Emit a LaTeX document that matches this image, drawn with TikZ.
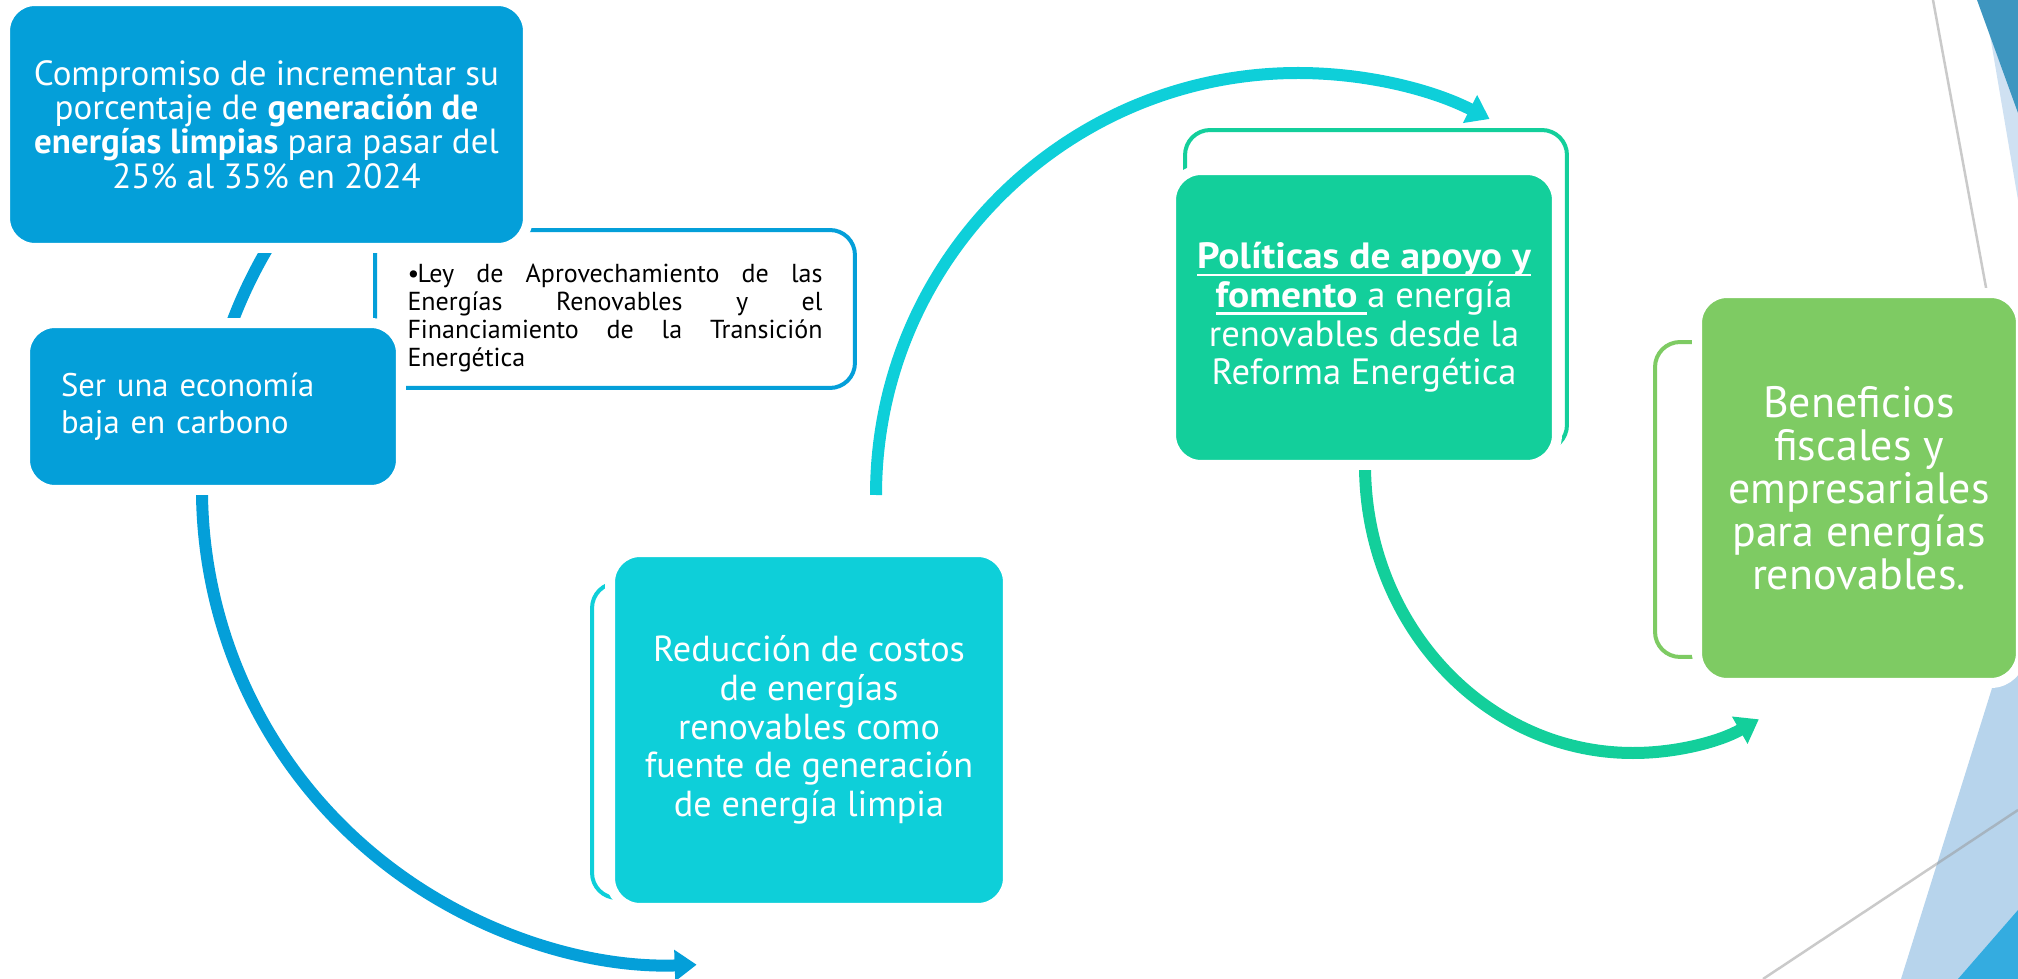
\documentclass[tikz,border=0pt]{standalone}
\usepackage{fontspec}
\setmainfont{PT Sans}
\usepackage{xcolor}
\usepackage{tikz}
\usetikzlibrary{arrows.meta,calc}

\definecolor{stepblue}{RGB}{4,159,217}
\definecolor{stepteal}{RGB}{14,207,217}
\definecolor{stepmint}{RGB}{19,207,155}
\definecolor{stepgreen}{RGB}{126,203,99}
\definecolor{facetlight}{RGB}{183,212,236}
\definecolor{facetpale}{RGB}{207,225,242}
\definecolor{facetdark}{RGB}{62,150,192}
\definecolor{facetbright}{RGB}{52,172,224}
\definecolor{facetline}{RGB}{150,150,150}

% underline that sits through the descenders
\newcommand{\undl}[1]{\setbox0=\hbox{#1}\rlap{\rule[-0.2em]{\wd0}{0.07em}}\box0}
% wide bold for the policy title
\newcommand{\widebf}{\bfseries\addfontfeature{FakeStretch=1.08}}

\begin{document}
\begin{tikzpicture}[x=0.02cm, y=-0.02cm,
    card/.style={rounded corners=0.6cm, draw=white, line width=0.2cm, text=white, align=center, inner sep=0pt},
    backcard/.style={rounded corners=0.5cm, line width=0.08cm, inner sep=0pt},
    flow/.style={line width=0.24cm, -{Triangle[length=0.44cm,width=0.6cm]}}]
    \useasboundingbox (0,0) rectangle (2018,979);

    % Slide decoration (right border)
    \fill[facetpale] (1984,0) -- (2018,0) -- (2018,200) -- cycle;
    \fill[facetdark] (1977,0) -- (2018,0) -- (2018,113) -- cycle;
    \fill[facetlight] (1901,979) -- (2018,605) -- (2018,979) -- cycle;
    \fill[facetbright] (1958,979) -- (2018,910) -- (2018,979) -- cycle;
    \draw[facetline, opacity=0.5, line width=0.05cm] (1933,0) -- (1987,293);
    \draw[facetline, opacity=0.5, line width=0.05cm] (1763,979) -- (2018,810);

    % Arrows of the cycle
    \coordinate (cyc1) at (680,489);
    \coordinate (cyc2) at (1298,495);
    \coordinate (cyc3) at (1633,465);
    \draw[flow, stepblue] ($(cyc1)+(215:478 and 476)$) arc[start angle=215, end angle=88, x radius=478, y radius=476];
    \draw[flow, stepteal] ($(cyc2)+(180:422)$) arc[start angle=180, end angle=297, radius=422];
    \draw[flow, stepmint] ($(cyc3)+(180:268 and 288)$) arc[start angle=180, end angle=62, x radius=268, y radius=288];

    % Secondary (text) boxes behind the steps
    \node[backcard, draw=stepblue, minimum width=9.6cm, minimum height=3.16cm] (ley) at (615,309) {};
    \node[text width=8.3cm, align=justify, inner sep=0pt,
          font={\fontsize{14.8pt}{15.8pt}\selectfont\hyphenpenalty=10000\exhyphenpenalty=10000\tolerance=9999}] (leytxt) at (615,318)
          {\hangindent=0.2cm\hangafter=1\makebox[0.2cm][l]{\textbullet}Ley de Aprovechamiento de las\linebreak Energías Renovables y el\linebreak Financiamiento de la Transición\linebreak Energética};
    \node[backcard, draw=stepteal, minimum width=6.16cm, minimum height=6.3cm] (costback) at (746,740.5) {};
    \node[backcard, draw=stepmint, minimum width=7.64cm, minimum height=6.4cm] (policyback) at (1376,290) {};
    \node[backcard, draw=stepgreen, minimum width=4.9cm, minimum height=6.3cm] (benefitback) at (1777.5,499.5) {};

    % Steps
    \node[card, fill=stepblue, minimum width=10.46cm, minimum height=4.94cm,
          font={\fontsize{19.9pt}{19.6pt}\selectfont}] (goal) at (266.5,124.5)
          {Compromiso de incrementar su\\ porcentaje de \textbf{generación de}\\ \textbf{energías limpias} para pasar del\\ 25\% al 35\% en 2024};
    \node[card, fill=stepblue, minimum width=7.52cm, minimum height=3.34cm, text width=6.08cm, align=left,
          font={\fontsize{18.6pt}{21pt}\selectfont}] (carbon) at (213,406.5)
          {Ser una economía\\ baja en carbono};
    \node[card, fill=stepteal, minimum width=7.96cm, minimum height=7.12cm,
          font={\fontsize{20.6pt}{22pt}\selectfont}] (costs) at (809,730)
          {Reducción de costos\\ de energías\\ renovables como\\ fuente de generación\\ de energía limpia};
    \node[card, fill=stepmint, minimum width=7.72cm, minimum height=5.9cm,
          font={\fontsize{20.8pt}{22pt}\selectfont}] (policy) at (1364,317.5)
          {{\widebf\undl{Políticas de apoyo y}}\\ {\widebf\undl{fomento~}}a energía\\ renovables desde la\\ Reforma Energética};
    \node[card, fill=stepgreen, minimum width=6.48cm, minimum height=7.8cm,
          font={\fontsize{25pt}{24.5pt}\selectfont}] (benefit) at (1859,488)
          {Beneficios\\ fiscales y\\ empresariales\\ para energías\\ renovables.};
\end{tikzpicture}
\end{document}
